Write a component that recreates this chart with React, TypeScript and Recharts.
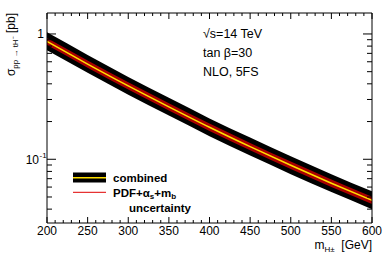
import React from "react";
import { ComposedChart, Area, Line, XAxis, YAxis } from "recharts";

// charged Higgs mass [GeV]
const masses = [200, 250, 300, 350, 400, 450, 500, 550, 600];
// cross section pp -> tH- [pb]
const central = [0.871, 0.575, 0.385, 0.262, 0.18, 0.126, 0.0895, 0.0644, 0.047];
const combinedUp = [1.03, 0.68, 0.454, 0.309, 0.212, 0.149, 0.1056, 0.076, 0.0555];
const combinedDown = [0.74, 0.49, 0.327, 0.223, 0.153, 0.107, 0.0761, 0.0547, 0.04];
const pdfUp = [0.93, 0.615, 0.412, 0.28, 0.193, 0.135, 0.0958, 0.0689, 0.0503];
const pdfDown = [0.815, 0.538, 0.36, 0.245, 0.168, 0.118, 0.0837, 0.0602, 0.044];

const xMajor = [200, 250, 300, 350, 400, 450, 500, 550, 600];
const xTicks = Array.from({ length: 41 }, (_, i) => 200 + i * 10);
const yMajor = [0.1, 1];
const yTicks = [0.04, 0.05, 0.06, 0.07, 0.08, 0.09, 0.1, 0.2, 0.3, 0.4, 0.5, 0.6, 0.7, 0.8, 0.9, 1];

const data = masses.map((m, i) => ({
  m,
  central: central[i],
  combined: [combinedDown[i], combinedUp[i]],
  pdf: [pdfDown[i], pdfUp[i]],
}));

const Y_DOMAIN: [number, number] = [0.031, 1.47];
const FONT = "'Liberation Sans', Arial, Helvetica, sans-serif";

const BottomTick = ({ x, y, payload }: any) => {
  const major = xMajor.includes(payload.value);
  return (
    <g>
      <line x1={x} x2={x} y1={y} y2={y - (major ? 6 : 3)} stroke="#000" />
      {major && (
        <text x={x} y={y + 11.5} textAnchor="middle" fontSize={12} fill="#000">
          {payload.value}
        </text>
      )}
    </g>
  );
};

const TopTick = ({ x, y, payload }: any) => {
  const major = xMajor.includes(payload.value);
  return <line x1={x} x2={x} y1={y} y2={y + (major ? 6 : 3)} stroke="#000" />;
};

const LeftTick = ({ x, y, payload }: any) => {
  const major = yMajor.includes(payload.value);
  return (
    <g>
      <line x1={x} x2={x + (major ? 9 : 5)} y1={y} y2={y} stroke="#000" />
      {payload.value === 1 && (
        <text x={x - 3} y={y + 4} textAnchor="end" fontSize={12} fill="#000">
          1
        </text>
      )}
      {payload.value === 0.1 && (
        <text x={x - 8} y={y + 4.5} textAnchor="end" fontSize={12} fill="#000">
          10
        </text>
      )}
      {payload.value === 0.1 && (
        <text x={x - 7.5} y={y - 1.5} textAnchor="start" fontSize={8} fill="#000">
          -1
        </text>
      )}
    </g>
  );
};

const RightTick = ({ x, y, payload }: any) => {
  const major = yMajor.includes(payload.value);
  return <line x1={x} x2={x - (major ? 9 : 5)} y1={y} y2={y} stroke="#000" />;
};

export default function App() {
  return (
    <div style={{ position: "absolute", left: 0, top: 0, width: 392, height: 266, background: "#fff", fontFamily: FONT }}>
      <ComposedChart width={392} height={266} data={data} margin={{ top: 0, right: 0, bottom: 0, left: 0 }}>
        <XAxis
          xAxisId="b"
          dataKey="m"
          type="number"
          domain={[200, 600]}
          allowDataOverflow
          ticks={xTicks}
          interval={0}
          height={43}
          tickSize={0}
          tickMargin={0}
          axisLine={{ stroke: "#000" }}
          tickLine={false}
          tick={(p: any) => <BottomTick {...p} />}
        />
        <XAxis
          xAxisId="t"
          orientation="top"
          dataKey="m"
          type="number"
          domain={[200, 600]}
          allowDataOverflow
          ticks={xTicks}
          interval={0}
          height={13}
          tickSize={0}
          tickMargin={0}
          axisLine={{ stroke: "#000" }}
          tickLine={false}
          tick={(p: any) => <TopTick {...p} />}
        />
        <YAxis
          yAxisId="l"
          scale="log"
          type="number"
          domain={Y_DOMAIN}
          allowDataOverflow
          ticks={yTicks}
          interval={0}
          width={47}
          tickSize={0}
          tickMargin={0}
          axisLine={{ stroke: "#000" }}
          tickLine={false}
          tick={(p: any) => <LeftTick {...p} />}
        />
        <YAxis
          yAxisId="r"
          orientation="right"
          scale="log"
          type="number"
          domain={Y_DOMAIN}
          allowDataOverflow
          ticks={yTicks}
          interval={0}
          width={20}
          tickSize={0}
          tickMargin={0}
          axisLine={{ stroke: "#000" }}
          tickLine={false}
          tick={(p: any) => <RightTick {...p} />}
        />
        <Area
          xAxisId="b"
          yAxisId="l"
          type="monotone"
          dataKey="combined"
          fill="#000"
          fillOpacity={1}
          stroke="none"
          isAnimationActive={false}
        />
        <Area
          xAxisId="b"
          yAxisId="l"
          type="monotone"
          dataKey="pdf"
          fill="#a80000"
          fillOpacity={1}
          stroke="none"
          isAnimationActive={false}
        />
        <Line
          xAxisId="b"
          yAxisId="l"
          type="monotone"
          dataKey="central"
          stroke="#ffe000"
          strokeWidth={1.5}
          dot={false}
          isAnimationActive={false}
        />
      </ComposedChart>
      <svg
        width={392}
        height={266}
        style={{ position: "absolute", left: 0, top: 0, pointerEvents: "none" }}
        fontFamily={FONT}
      >
        {/* y title */}
        <text transform="translate(15,13) rotate(-90)" textAnchor="end" fontSize={12} fill="#000">
          σ<tspan fontSize={8} dy={3}>pp → tH⁻</tspan>
          <tspan dy={-3}> [pb]</tspan>
        </text>
        {/* x title */}
        <text x={372} y={249} textAnchor="end" fontSize={12} fill="#000">
          m<tspan fontSize={8} dy={3}>H±</tspan>
          <tspan dy={-3}>{"\u00a0\u00a0[GeV]"}</tspan>
        </text>
        {/* annotations */}
        <text x={203} y={38} fontSize={12.5} fill="#000">√s=14 TeV</text>
        <text x={203} y={57} fontSize={12.5} fill="#000">tan β=30</text>
        <text x={203} y={75.5} fontSize={12.5} fill="#000">NLO, 5FS</text>
        {/* legend */}
        <rect x={73} y={172.5} width={33} height={10} fill="#000" />
        <line x1={73} x2={106} y1={177.7} y2={177.7} stroke="#ffe000" strokeWidth={1.5} />
        <line x1={73} x2={106} y1={192.3} y2={192.3} stroke="#e00000" strokeWidth={1} />
        <text x={113} y={181.5} fontSize={11.5} fontWeight="bold" fill="#000">combined</text>
        <text x={113} y={196.5} fontSize={11.5} fontWeight="bold" fill="#000">
          PDF+α<tspan fontSize={8} dy={2.5}>s</tspan>
          <tspan dy={-2.5}>+m</tspan>
          <tspan fontSize={8} dy={2.5}>b</tspan>
        </text>
        <text x={129} y={211.5} fontSize={11.5} fontWeight="bold" fill="#000">uncertainty</text>
      </svg>
    </div>
  );
}
